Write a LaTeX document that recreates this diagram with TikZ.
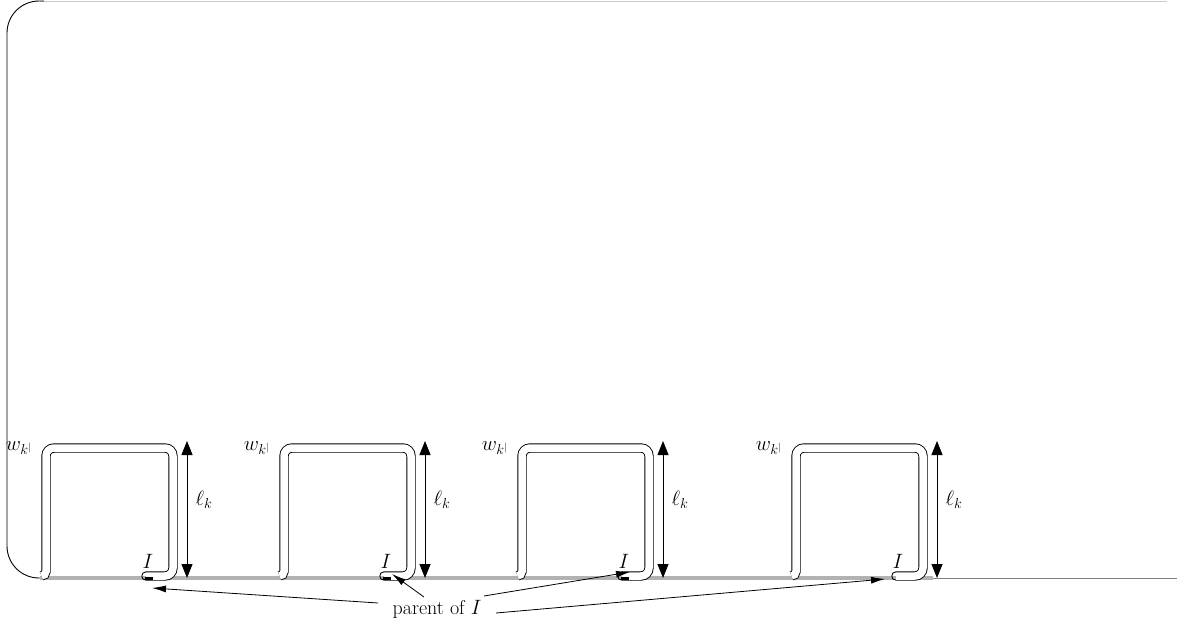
\documentclass[tikz,border=0pt]{standalone}
\usetikzlibrary{arrows.meta}
\begin{document}
\begin{tikzpicture}[x=1pt,y=-1pt,line width=0.9pt,
  font=\fontsize{20}{24}\selectfont,
  band/.style={draw=black,double=white,double distance=7.5pt,line width=0.9pt},
  dimarrow/.style={{Triangle[length=14pt,width=11pt]}-{Triangle[length=14pt,width=11pt]},line width=0.9pt},
  ptr/.style={-{Latex[length=14pt,width=7pt]},line width=0.8pt},
  marker/.style={line width=3pt,black},
  lbl/.style={inner sep=0pt}]
\useasboundingbox (0,0) rectangle (1178,624);
% frame
\draw[gray!40,line width=0.8pt] (40,1) -- (1167,1);
\draw[black,rounded corners=32pt] (44,578) -- (7,578) -- (7,1) -- (44,1);
% base line
\draw[gray!60,line width=4pt] (40,578) -- (933,578);
\draw[gray,line width=1.3pt] (933,578.5) -- (1177,578.5);
% boxes
\foreach \x/\i in {46/1,284/2,522/3,796/4}{
  \draw[band] (\x-4.5,576) [rounded corners=4.5pt] -- (\x,576) [rounded corners=8pt] -- (\x,448) -- (\x+127,448) -- (\x+127,576) -- (\x+100,576);
  \draw[black,line width=0.9pt] (\x+100,571.8) .. controls (\x+94.4,571.8) and (\x+94.4,580.2) .. (\x+100,580.2);
  \coordinate (t\i) at (\x+141,441);
  \coordinate (b\i) at (\x+141,578);
  \draw[dimarrow] (t\i) -- (b\i);
  \node[lbl] (l\i) at (\x+158,500) {$\ell_k$};
  \node[lbl] (w\i) at (\x-27,448) {$w_{k^{|}}$};
  \node[lbl] (I\i) at (\x+102,561) {$I$};
}
\foreach \x in {46,284,522}{
  \draw[marker] (\x+99,578) -- (\x+107,578);
}
% parent label and pointers
\node[lbl] (par) at (437,609) {parent of $I$};
\coordinate (s1) at (378,603);
\coordinate (s2) at (424,597);
\coordinate (s3) at (484,596);
\coordinate (s4) at (496,613);
\coordinate (p1) at (152,588);
\coordinate (p2) at (392,574);
\coordinate (p3) at (630,572);
\coordinate (p4) at (885,579);
\draw[ptr] (s1) -- (p1);
\draw[ptr] (s2) -- (p2);
\draw[ptr] (s3) -- (p3);
\draw[ptr] (s4) -- (p4);
\end{tikzpicture}
\end{document}
